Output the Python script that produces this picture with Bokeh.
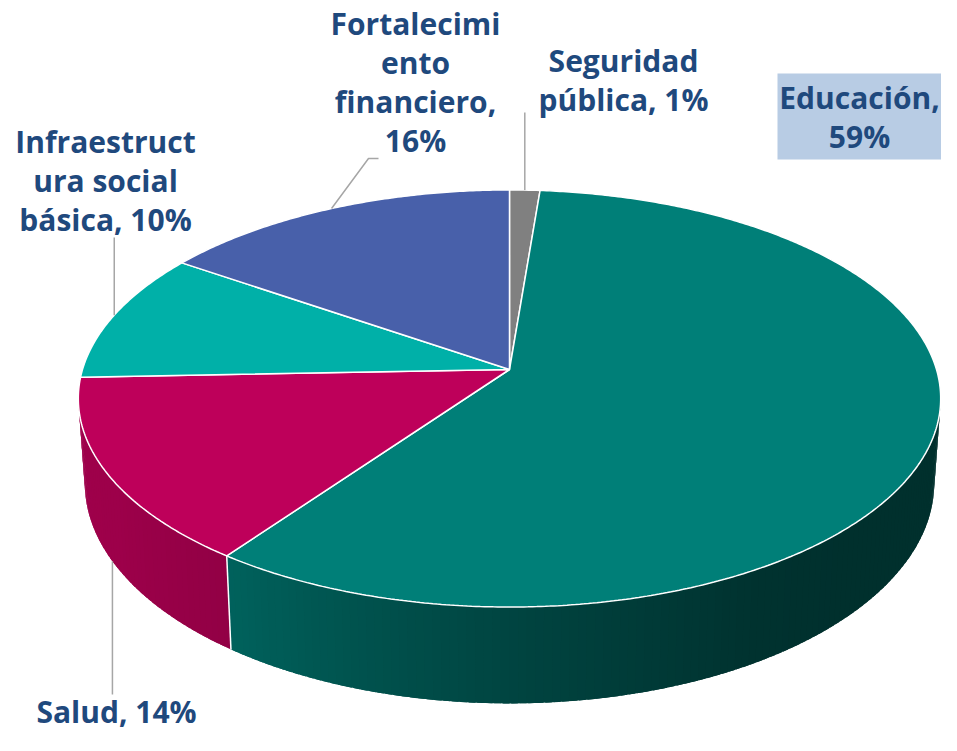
import numpy as np
from bokeh.plotting import figure
from bokeh.models import Range1d
from bokeh.embed import file_html
from bokeh.resources import INLINE
from bokeh.core.properties import value

# ---------------- data ----------------
categories = ["Seguridad pública", "Educación", "Salud",
              "Infraestructura social básica", "Fortalecimiento financiero"]
values = [1.3, 58.7, 14.4, 10.1, 15.5]          # percent, clockwise from 12 o'clock
label_lines = [["Seguridad", "pública, 1%"],
               ["Educación,", "59%"],
               ["Salud, 14%"],
               ["Infraestruct", "ura social", "básica, 10%"],
               ["Fortalecimi", "ento", "financiero,", "16%"]]
top_colors = ["#808080", "#007f78", "#be005a", "#00b0a8", "#4860aa"]

# ---------------- layout / projection ----------------
CX, CY = 509.0, 369.0     # pie centre (px)
A, B = 427.0, 204.5       # radii
K = 0.139                 # perspective strength
T = 83.0                  # thickness
S = 0.985                 # bottom-face shrink
TXT = "#1f497d"
LEADER = "#a6a6a6"
FONT = "Open Sans"
FSIZE = "30px"
YOFF = -11                # text baseline correction

def proj(theta_deg, depth=0.0):
    t = np.radians(theta_deg)
    x = np.sin(t)
    z = -np.cos(t)
    w = 1 - K * z
    X = CX + A * x / w * (1 - (1 - S) * depth)
    Y = CY + B * z / w + depth * T / w
    return X, Y

shade_t = [90, 135, 150, 165, 181, 199, 215, 240, 270]
shade_f = [0.38, 0.38, 0.40, 0.47, 0.55, 0.66, 0.77, 0.83, 0.84]

def shade(hexcol, theta):
    f = float(np.interp(theta, shade_t, shade_f))
    r, g, b = (int(hexcol[i:i + 2], 16) for i in (1, 3, 5))
    return "#%02x%02x%02x" % (int(r * f), int(g * f), int(b * f))

cum = np.concatenate([[0], np.cumsum(values)]) / sum(values) * 360.0
starts, ends = cum[:-1], cum[1:]
mids = (starts + ends) / 2

W, H = 941, 735
p = figure(width=W, height=H, output_backend="svg", toolbar_location=None,
           x_range=Range1d(0, W), y_range=Range1d(H, 0),
           min_border=0, outline_line_color=None, background_fill_color="white")
p.axis.visible = False
p.grid.visible = False

# ---------------- side walls ----------------
LO, HI = 98.0, 262.0
wx, wy, wc = [], [], []
for s0, e0, col in zip(starts, ends, top_colors):
    lo, hi = max(s0, LO), min(e0, HI)
    if lo >= hi:
        continue
    n = max(2, int(np.ceil((hi - lo) / 1.0)))
    edges = np.linspace(lo, hi, n + 1)
    for a, b in zip(edges[:-1], edges[1:]):
        bb = min(b + 0.8, hi)
        tt = np.linspace(a, bb, 4)
        xt, yt = proj(tt, 0)
        xb, yb = proj(tt[::-1], 1)
        wx.append(list(xt) + list(xb))
        wy.append(list(yt) + list(yb))
        wc.append(shade(col, (a + b) / 2))
p.patches(wx, wy, fill_color=wc, line_color=None)

for bnd in starts[1:]:
    if LO < bnd < HI:
        x0, y0 = proj(bnd, 0)
        x1, y1 = proj(bnd, 1)
        p.line([x0, x1], [y0, y1], line_color="white", line_width=1.5)

# ---------------- top faces ----------------
tx, ty = [], []
for s0, e0 in zip(starts, ends):
    tt = np.linspace(s0, e0, max(3, int((e0 - s0) * 2)))
    X, Y = proj(tt, 0)
    tx.append([CX] + list(X))
    ty.append([CY] + list(Y))
p.patches(tx, ty, fill_color=top_colors, line_color="white", line_width=1.5)

# ---------------- labels ----------------
LH = 39
label_pos = [(623, 71), (859, 108), (116, 722), (105, 152), (415, 34)]

# background box behind Educación label
p.quad(left=[777], right=[W + 2], top=[73], bottom=[159],
       fill_color="#b8cce4", line_color=None)

for lines, (lx, ly) in zip(label_lines, label_pos):
    p.text(x=[lx] * len(lines), y=[ly + YOFF + i * LH for i in range(len(lines))], text=lines,
           text_align="center", text_baseline="alphabetic",
           text_font=value(FONT), text_font_style="bold",
           text_font_size=FSIZE, text_color=TXT)

# ---------------- leader lines ----------------
# Seguridad
ax, ay = proj(mids[0], 0)
p.line([ax, ax], [112, ay], line_color=LEADER, line_width=1.5)
# Salud (to bottom edge of wall)
ax, ay = proj(mids[2], 1)
p.line([ax, ax], [694, ay], line_color=LEADER, line_width=1.5)
# Infraestructura
ax, ay = proj(mids[3], 0)
p.line([ax, ax], [237, ay], line_color=LEADER, line_width=1.5)
# Fortalecimiento
ax, ay = proj(mids[4], 0)
p.line([378, 368, ax], [158, 158, ay], line_color=LEADER, line_width=1.5)

open("out.html", "w").write(file_html(p, INLINE))
